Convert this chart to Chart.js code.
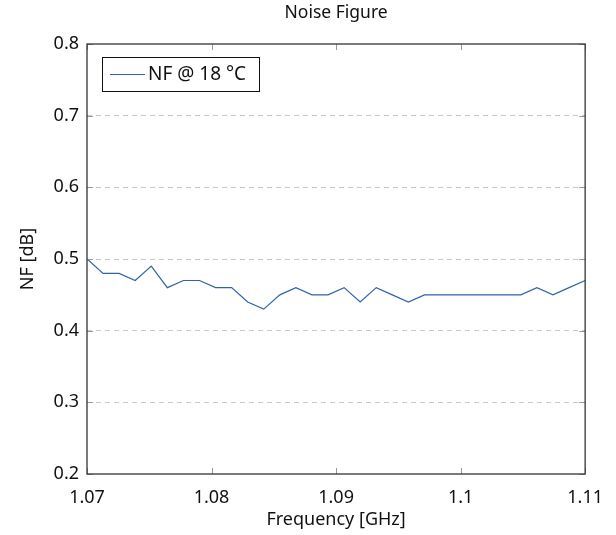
<!DOCTYPE html>
<html>
<head>
<meta charset="utf-8">
<script src="https://cdn.jsdelivr.net/npm/chart.js@4"></script>
<style>
  html, body { margin: 0; padding: 0; background: #fff; }
  #wrap { width: 616px; height: 535px; }
</style>
</head>
<body>
<div id="wrap"><canvas id="nfChart" width="616" height="535"></canvas></div>
<script>
// ===== DATA =====
const fStart = 1.07;
const fStep  = 0.04 / 31;
const nfValues = [
  0.50, 0.48, 0.48, 0.47, 0.49, 0.46, 0.47, 0.47, 0.46, 0.46, 0.44, 0.43,
  0.45, 0.46, 0.45, 0.45, 0.46, 0.44, 0.46, 0.45, 0.44, 0.45, 0.45, 0.45,
  0.45, 0.45, 0.45, 0.45, 0.46, 0.45, 0.46, 0.47
];
const freqs = nfValues.map((_, i) => fStart + i * fStep);
const xTicks = [1.07, 1.08, 1.09, 1.1, 1.11];
const yTicks = [0.2, 0.3, 0.4, 0.5, 0.6, 0.7, 0.8];
const seriesLabel = "NF @ 18 °C";
const chartTitle  = "Noise Figure";

const FONT = "'Noto Sans', 'DejaVu Sans', sans-serif";
const LINE_COLOR = "#3162ad";

// ===== TITLE + FRAME + INNER TICKS + LEGEND =====
const framePlugin = {
  id: "frame",
  afterDatasetsDraw(chart) {
    const { ctx, chartArea: a, scales } = chart;
    ctx.save();
    // title, centred over the plot area
    ctx.fillStyle = "#111";
    ctx.font = "17.5px " + FONT;
    ctx.textAlign = "center";
    ctx.textBaseline = "middle";
    ctx.fillText(chartTitle, (a.left + a.right) / 2, 13);

    // inner ticks
    ctx.strokeStyle = "#999";
    ctx.lineWidth = 1;
    const tl = 6;
    xTicks.forEach(v => {
      const x = Math.round(scales.x.getPixelForValue(v)) + 0.5;
      ctx.beginPath();
      ctx.moveTo(x, a.bottom); ctx.lineTo(x, a.bottom - tl);
      ctx.moveTo(x, a.top);    ctx.lineTo(x, a.top + tl);
      ctx.stroke();
    });
    yTicks.forEach(v => {
      const y = Math.round(scales.y.getPixelForValue(v)) + 0.5;
      ctx.beginPath();
      ctx.moveTo(a.left, y);  ctx.lineTo(a.left + tl, y);
      ctx.moveTo(a.right, y); ctx.lineTo(a.right - tl, y);
      ctx.stroke();
    });
    // box
    ctx.strokeStyle = "#333";
    ctx.lineWidth = 1.3;
    ctx.strokeRect(a.left, a.top, a.right - a.left, a.bottom - a.top);

    // legend
    const lx = a.left + 15, ly = a.top + 13, lw = 157, lh = 34;
    ctx.fillStyle = "#fff";
    ctx.fillRect(lx, ly, lw, lh);
    ctx.strokeStyle = "#111";
    ctx.lineWidth = 1;
    ctx.strokeRect(lx + 0.5, ly + 0.5, lw, lh);
    ctx.strokeStyle = LINE_COLOR;
    ctx.beginPath();
    ctx.moveTo(lx + 8, ly + lh / 2 + 0.5);
    ctx.lineTo(lx + 43, ly + lh / 2 + 0.5);
    ctx.stroke();
    ctx.fillStyle = "#111";
    ctx.font = "19px " + FONT;
    ctx.textAlign = "left";
    ctx.textBaseline = "middle";
    ctx.fillText(seriesLabel, lx + 46, ly + lh / 2 + 1);
    ctx.restore();
  }
};

new Chart(document.getElementById("nfChart"), {
  type: "line",
  data: {
    datasets: [{
      label: seriesLabel,
      data: freqs.map((f, i) => ({ x: f, y: nfValues[i] })),
      borderColor: LINE_COLOR,
      borderWidth: 1.2,
      pointRadius: 0,
      tension: 0,
      fill: false
    }]
  },
  options: {
    responsive: false,
    animation: false,
    devicePixelRatio: 1,
    layout: { padding: { left: 0, right: 30, top: 44, bottom: 0 } },
    plugins: {
      legend: { display: false },
      tooltip: { enabled: false },
      title: { display: false }
    },
    scales: {
      x: {
        type: "linear",
        min: 1.07,
        max: 1.11,
        afterBuildTicks: s => { s.ticks = xTicks.map(v => ({ value: v })); },
        afterFit: s => { s.height = 61; },
        grid: { display: false, drawTicks: false },
        border: { display: false },
        ticks: {
          padding: 13,
          color: "#111",
          font: { family: FONT, size: 18 },
          maxRotation: 0,
          callback: v => String(Math.round(v * 100) / 100)
        },
        title: {
          display: true,
          text: "Frequency [GHz]",
          color: "#111",
          font: { family: FONT, size: 18 },
          padding: { top: 0, bottom: 4 }
        }
      },
      y: {
        min: 0.2,
        max: 0.8,
        afterBuildTicks: s => { s.ticks = yTicks.map(v => ({ value: v })); },
        afterFit: s => { s.width = 87; },
        grid: {
          drawTicks: false,
          color: c => (c.tick && (c.tick.value <= 0.2 || c.tick.value >= 0.8)) ? "rgba(0,0,0,0)" : "#c8c8c8",
          lineWidth: 1
        },
        border: { display: false, dash: [5, 4] },
        ticks: {
          padding: 8,
          color: "#111",
          font: { family: FONT, size: 18 },
          callback: v => v.toFixed(1)
        },
        title: {
          display: true,
          text: "NF [dB]",
          color: "#111",
          font: { family: FONT, size: 18 },
          padding: { top: 17, bottom: 0 }
        }
      }
    }
  },
  plugins: [framePlugin]
});
</script>
</body>
</html>
